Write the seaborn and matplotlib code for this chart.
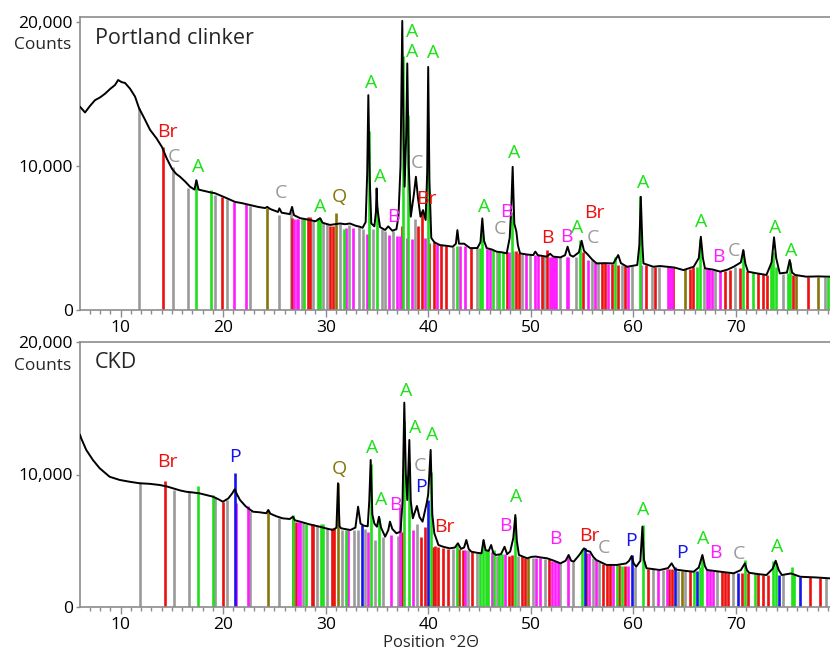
import numpy as np
import pandas as pd
import matplotlib
matplotlib.use("Agg")
import matplotlib.pyplot as plt
import seaborn as sns
from matplotlib.ticker import FuncFormatter, MultipleLocator, FixedLocator

# ---------------- measured pattern: Portland clinker ----------------
top_x = [6.03, 6.52, 7.0, 7.49, 8.0, 8.47, 9.0, 9.44, 9.75, 10.1, 10.42, 10.91, 11.4, 11.79, 12.3,
         12.86, 13.5, 14.03, 14.5, 15.0, 15.4, 15.79, 16.3, 16.76, 17.2, 17.38, 17.6, 18.2, 18.8,
         19.2, 20.2, 21.15, 21.9, 22.61, 23.4, 24.08, 24.3, 24.6, 25.35, 25.48, 25.7, 26.5, 26.72,
         26.9, 27.5, 28.0, 28.47, 29.0, 29.45, 29.7, 30.42, 30.9, 31.4, 31.9, 32.37, 32.9, 33.35,
         33.6, 33.9, 34.05, 34.16, 34.3, 34.45, 34.75, 34.9, 34.97, 35.05, 35.3, 35.8, 36.1, 36.5,
         36.9, 37.1, 37.3, 37.47, 37.6, 37.7, 37.85, 37.96, 38.1, 38.3, 38.6, 38.8, 39.0, 39.25,
         39.5, 39.75, 39.9, 40.0, 40.12, 40.3, 40.6, 41.15, 41.8, 42.4, 42.7, 42.85, 43.0, 43.5,
         44.1, 44.8, 45.1, 45.28, 45.45, 45.71, 46.2, 46.7, 47.2, 47.66, 47.95, 48.1, 48.24, 48.4,
         48.6, 48.75, 48.96, 49.6, 50.25, 50.45, 50.7, 51.56, 51.9, 52.2, 52.9, 53.35, 53.6, 53.85,
         54.15, 54.7, 54.97, 55.2, 55.46, 56.0, 56.44, 57.2, 58.06, 58.54, 58.8, 59.4, 60.4, 60.6,
         60.74, 60.9, 61.0, 61.97, 62.6, 63.27, 64.0, 64.9, 65.9, 66.4, 66.6, 66.8, 67.0, 67.8,
         68.5, 69.2, 69.8, 70.5, 70.74, 70.95, 71.2, 72.0, 73.0, 73.5, 73.74, 73.95, 74.3, 75.0,
         75.27, 75.5, 75.8, 76.9, 78.0, 79.2]
top_y = [14100, 13700, 14150, 14550, 14750, 15000, 15350, 15600, 15950, 15800, 15750, 15350, 14800,
         14000, 13300, 12500, 11900, 11300, 10500, 9800, 9450, 9240, 8900, 8550, 8350, 9000, 8350,
         8250, 8150, 8100, 7800, 7500, 7400, 7280, 7150, 7070, 7150, 7000, 6800, 7050, 6750, 6650,
         7150, 6580, 6370, 6300, 6240, 6150, 6370, 6050, 5900, 5950, 6000, 5950, 6000, 5850, 5770,
         5700, 6100, 9500, 14900, 9000, 6000, 5800, 6800, 8430, 7000, 5750, 5550, 5800, 5500, 5600,
         6500, 10000, 20050, 12000, 8550, 12000, 17100, 10000, 6470, 8000, 9240, 7800, 6470, 6930,
         6240, 9500, 16860, 9000, 5000, 4700, 4500, 4450, 4390, 4600, 5540, 4600, 4600, 4290, 4300,
         4700, 6350, 4800, 4290, 4200, 4040, 4000, 3930, 5000, 7000, 9930, 6000, 5450, 4500, 3930,
         3850, 3810, 4050, 3800, 3700, 3900, 3700, 3650, 3800, 4390, 3800, 3700, 4000, 4800, 4100,
         3930, 3500, 3230, 3250, 3230, 3810, 3250, 3000, 3120, 4500, 7850, 4500, 3230, 3000, 3050,
         3000, 2950, 2770, 3000, 3600, 5080, 3600, 2890, 2800, 2660, 2800, 3000, 3300, 4160, 3200,
         2660, 2550, 2430, 3300, 5040, 3600, 2540, 2600, 3470, 2600, 2430, 2310, 2330, 2310]

# ---------------- measured pattern: CKD ----------------
ckd_x = [6.03, 6.15, 6.64, 7.29, 7.95, 8.92, 9.9, 10.9, 11.85, 12.8, 13.8, 14.5, 15.1, 15.8, 16.4,
         17.0, 17.7, 18.4, 19.0, 19.5, 19.97, 20.5, 20.9, 21.12, 21.35, 21.64, 22.2, 22.9, 23.6,
         24.2, 24.4, 24.6, 25.2, 25.8, 26.5, 26.8, 27.0, 27.5, 28.4, 29.4, 30.0, 30.7, 31.05, 31.2,
         31.35, 31.5, 32.4, 32.9, 33.16, 33.4, 33.7, 34.1, 34.25, 34.39, 34.55, 34.75, 35.0, 35.2,
         35.4, 35.8, 36.1, 36.27, 36.5, 36.9, 37.3, 37.5, 37.67, 37.82, 37.96, 38.16, 38.3, 38.5,
         38.9, 39.15, 39.45, 39.85, 40.0, 40.24, 40.4, 40.6, 41.0, 41.5, 42.1, 42.6, 42.9, 43.2,
         43.5, 43.72, 43.95, 44.2, 44.8, 45.2, 45.4, 45.6, 45.9, 46.14, 46.35, 46.6, 47.1, 47.45,
         47.7, 48.0, 48.3, 48.5, 48.65, 48.85, 49.66, 50.1, 50.5, 51.0, 51.6, 52.3, 52.9, 53.4,
         53.7, 53.95, 54.2, 54.7, 55.2, 55.5, 55.8, 56.1, 56.4, 57.4, 58.4, 59.3, 59.6, 59.85,
         60.05, 60.3, 60.7, 60.9, 61.05, 61.3, 62.6, 63.4, 63.75, 64.1, 65.0, 65.9, 66.4, 66.75,
         67.0, 67.2, 68.5, 69.8, 70.5, 70.9, 71.1, 71.3, 72.2, 73.0, 73.6, 73.9, 74.2, 74.5, 75.4,
         76.3, 77.8, 79.2]
ckd_y = [13000, 12720, 11850, 11090, 10470, 9830, 9590, 9450, 9340, 9300, 9210, 9100, 8960, 8800,
         8700, 8650, 8580, 8450, 8330, 8150, 7950, 8200, 8600, 8890, 8500, 8080, 7600, 7200, 7150,
         7080, 7330, 7050, 6850, 6700, 6650, 6820, 6550, 6450, 6250, 6070, 5950, 5820, 6000, 9340,
         6100, 5950, 5820, 6000, 7580, 6300, 6150, 6100, 8000, 11090, 7000, 6300, 6070, 6820, 6000,
         5320, 5800, 6450, 5900, 5570, 5700, 8000, 15410, 10000, 8080, 12600, 8000, 6700, 7630,
         6800, 6450, 7830, 8500, 11850, 7000, 5570, 4690, 4550, 4440, 4500, 4820, 4400, 4500, 5070,
         4400, 4190, 4100, 4070, 5070, 4300, 4250, 4690, 4100, 3940, 4000, 4560, 4000, 4200, 5200,
         6950, 5000, 3940, 3690, 3800, 3820, 3750, 3690, 3500, 3310, 3500, 3940, 3500, 3440, 3900,
         4440, 4250, 4190, 3800, 3560, 3190, 3190, 3300, 3500, 3860, 3300, 3060, 3500, 6070, 3600,
         2940, 2810, 2950, 3310, 2850, 2750, 2680, 3000, 3940, 3100, 2810, 2680, 2560, 2800, 3310,
         2800, 2600, 2500, 2430, 2900, 3510, 2800, 2430, 2550, 2300, 2250, 2180]

# ---------------- reference sticks: Portland clinker ----------------
top_C_x = [11.82, 15.13, 16.6, 19.2, 20.34, 22.6, 25.44, 26.6, 27.66, 28.8, 29.77, 30.1, 31.4, 32.3,
           33.28, 33.67, 34.65, 35.46, 35.78, 36.6, 38.7, 42.39, 44.73, 46.68, 48.3, 49.12, 49.93,
           51.33, 52.86, 54.42, 55.95, 56.6, 58.88, 59.85, 61.8, 62.5, 66.9, 67.98, 69.93, 74.64, 78.7]
top_C_h = [14000, 9900, 8450, 7950, 7700, 7200, 6600, 6900, 6300, 6200, 6050, 5950, 5950, 5900,
           5750, 5650, 5650, 5600, 5500, 5450, 6300, 4400, 4300, 4050, 4100, 3900, 3850,
           3750, 3650, 3650, 3500, 3300, 3100, 3050, 3000, 3000, 2900, 2750, 2950, 2500, 2300]
top_Br_x = [14.1, 19.85, 26.74, 28.3, 28.47, 30.42, 30.68, 37.41, 39.04, 39.43, 40.1, 40.6, 41.25,
            41.7, 44.15, 47.66, 48.56, 48.89, 51.07, 51.62, 55.13, 56.93, 57.25, 57.9, 58.54, 59.2,
            61.25, 62.1, 63.9, 65.54, 65.86, 68.95, 69.44, 70.41, 71.07, 72.2, 72.69, 73.02, 75.62, 77.08]
top_Br_h = [11300, 7850, 6350, 6450, 6450, 5800, 5850, 5800, 5800, 6900, 4650, 4700, 4550,
            4450, 4300, 4000, 4100, 3950, 3750, 4150, 4000, 3250, 3250, 3200, 3150, 3050,
            3100, 3000, 3000, 2850, 2950, 2700, 2800, 2900, 2700, 2600, 2500, 2450, 2450, 2300]
top_A_x = [17.35, 18.78, 27.9, 29.28, 29.45, 31.8, 34.22, 35.03, 37.5, 38.0, 40.0, 42.78, 45.05,
           45.28, 46.3, 46.94, 47.33, 48.15, 54.8, 58.22, 60.66, 66.2, 66.5, 70.74, 71.72, 73.44,
           73.67, 73.93, 75.13, 75.3, 79.03]
top_A_h = [9000, 8300, 6350, 6350, 6350, 5650, 12400, 7150, 17600, 13500, 12700, 4450, 4300,
           5800, 4150, 4050, 4000, 6800, 4850, 3700, 7900, 2950, 4950, 4150, 2650, 3200,
           4050, 3000, 2600, 3350, 2300]
top_B_x = [21.05, 22.2, 26.94, 27.17, 27.33, 32.0, 32.7, 34.0, 36.17, 36.98, 37.25, 37.9, 38.4,
           39.7, 40.83, 43.1, 43.59, 45.71, 46.03, 47.92, 49.54, 50.42, 50.74, 51.9, 52.1, 52.3,
           52.5, 53.5, 53.67, 55.62, 56.27, 57.57, 59.52, 60.8, 63.4, 63.6, 63.75, 67.17, 67.4,
           67.66, 68.47]
top_B_h = [7500, 7350, 6300, 6300, 6300, 5700, 5700, 5300, 5200, 5100, 5100, 5000, 4950,
           5000, 4600, 4450, 4450, 4250, 4200, 4000, 3900, 3800, 3800, 3650, 3650, 3650,
           3650, 3700, 3700, 3450, 3350, 3200, 3050, 3100, 3000, 3000, 3000, 2850, 2850,
           2800, 2700]
top_Q_x = [24.24, 31.0, 65.06, 75.88, 78.05]
top_Q_h = [7100, 6700, 2850, 2450, 2300]

# ---------------- reference sticks: CKD ----------------
ckd_C_x = [11.88, 15.23, 16.69, 19.2, 20.4, 22.6, 25.44, 27.82, 29.12, 30.1, 31.56, 32.79, 33.18,
           33.84, 34.81, 35.62, 37.02, 38.88, 42.45, 43.91, 44.73, 46.68, 48.79, 50.2, 51.4, 52.86,
           54.15, 56.05, 56.7, 60.17, 61.96, 62.94, 64.4, 65.06, 68.14, 69.76, 74.64, 78.8]
ckd_C_h = [9450, 8850, 8650, 8300, 8100, 7250, 6750, 6350, 6200, 5950, 5850, 5800, 5800,
           5900, 5100, 5300, 5400, 6300, 4400, 4300, 4100, 3900, 3900, 3750, 3650, 3300,
           3400, 3700, 3400, 3000, 2850, 2800, 2750, 2700, 2700, 2550, 2400, 2200]
ckd_Br_x = [14.35, 20.0, 26.84, 27.07, 28.63, 28.73, 30.6, 30.8, 37.41, 39.27, 39.69, 40.44, 40.66,
            40.98, 41.47, 41.96, 43.03, 43.36, 44.24, 47.92, 48.15, 49.12, 49.45, 51.81, 55.4,
            57.02, 57.41, 57.74, 58.64, 59.2, 61.47, 63.52, 63.76, 65.54, 68.63, 68.95, 69.27,
            70.59, 71.23, 72.2, 72.69, 73.18, 77.25, 78.22]
ckd_Br_h = [9500, 7950, 6700, 6450, 6300, 6300, 5950, 5950, 5700, 5300, 6050, 4550, 4600,
            4550, 4500, 4400, 4400, 4350, 4200, 3900, 3950, 3850, 3750, 3600, 4100,
            3250, 3200, 3200, 3150, 3100, 2900, 2850, 2900, 2700, 2650, 2650, 2600,
            2600, 2600, 2500, 2450, 2450, 2250, 2200]
ckd_A_x = [17.57, 18.97, 26.84, 28.05, 29.5, 29.77, 31.98, 34.42, 35.23, 37.67, 38.13, 40.27, 42.84,
           45.05, 45.37, 45.64, 45.87, 46.42, 46.94, 47.17, 48.47, 54.98, 58.39, 58.88, 60.93,
           65.96, 66.52, 66.68, 70.91, 71.88, 73.67, 73.93, 75.46, 75.69]
ckd_A_h = [9100, 8450, 6950, 6300, 6300, 6300, 5800, 10800, 6700, 14000, 10950, 10200, 4700,
           4100, 5050, 4300, 4300, 4300, 4000, 4000, 6800, 4400, 3150, 3100, 6200,
           2750, 3000, 3900, 3550, 2600, 3450, 3300, 3050, 2400]
ckd_B_x = [21.25, 22.39, 27.33, 27.5, 32.2, 34.16, 36.37, 37.25, 38.49, 43.59, 46.2, 47.49, 50.52,
           50.9, 52.05, 52.37, 52.7, 53.67, 55.72, 56.37, 58.06, 59.52, 62.45, 63.27, 67.17, 67.49,
           67.75]
ckd_B_h = [7850, 7600, 6450, 6400, 5800, 5700, 5450, 7500, 5800, 4350, 4200, 4000, 3750,
           3700, 3500, 3450, 3400, 3900, 4100, 3550, 3150, 3100, 2800, 2850, 2800, 2800,
           2750]
ckd_P_x = [21.15, 33.51, 39.95, 55.3, 59.85, 64.08, 66.2, 70.25, 74.25, 76.27]
ckd_P_h = [10150, 6200, 8100, 4450, 3950, 3050, 2700, 2600, 2450, 2300]
ckd_Q_x = [24.4, 31.17, 49.76, 64.73]
ckd_Q_h = [7350, 9350, 3700, 2750]

# ---------------- phase labels ----------------
top_lab_text = ["Br", "C", "A", "C", "A", "Q", "A", "A", "B", "A", "A", "A", "C", "Br", "A", "C",
                "B", "A", "B", "B", "A", "Br", "C", "A", "A", "B", "C", "A", "A"]
top_lab_phase = ["Br", "C", "A", "C", "A", "Q", "A", "A", "B", "A", "A", "A", "C", "Br", "A", "C",
                 "B", "A", "Br", "B", "A", "Br", "C", "A", "A", "B", "C", "A", "A"]
top_lab_x = [14.6, 15.2, 17.57, 25.6, 29.45, 31.33, 34.39, 35.3, 36.6, 38.4, 38.4, 40.5, 38.9, 39.85,
             45.44, 47.0, 47.66, 48.4, 51.6, 53.45, 54.55, 56.18, 56.05, 61.0, 66.68, 68.3, 69.86,
             73.83, 75.46]
top_lab_y = [12340, 10600, 9900, 8130, 7160, 7850, 15750, 9240, 6470, 19290, 17900, 17790, 10210,
             7670, 7110, 5590, 6810, 10860, 4960, 5080, 5660, 6700, 4960, 8820, 6120, 3700, 4110,
             5660, 4110]

ckd_lab_text = ["Br", "P", "Q", "A", "A", "B", "A", "A", "C", "P", "A", "Br", "B", "A", "B", "Br",
                "C", "P", "A", "P", "A", "B", "C", "A"]
ckd_lab_x = [14.55, 21.15, 31.33, 34.49, 35.37, 36.76, 37.83, 38.7, 39.2, 39.3, 40.4, 41.54, 47.5,
             48.63, 52.4, 55.7, 57.18, 59.76, 61.0, 64.73, 66.83, 67.97, 70.3, 74.0]
ckd_lab_y = [10960, 11340, 10390, 11970, 8080, 7700, 16310, 13480, 10640, 9080, 12970, 6070, 6120,
             8330, 5120, 5370, 4440, 5020, 7330, 4070, 5120, 4110, 4010, 4560]

x_ticks = [10, 20, 30, 40, 50, 60, 70]
y_ticks = [0, 10000, 20000]

COL = {'A': '#1fe01a', 'B': '#ff1cff', 'Br': '#ec1010', 'C': '#9a9a9a', 'Q': '#86760a', 'P': '#1414ee'}
SPINE = '#8c8c8c'

sns.set_style("white")
plt.rcParams['font.family'] = ['Open Sans', 'DejaVu Sans']

fig = plt.figure(figsize=(8.3, 6.53), dpi=100)
W = 830.0
H = 653.0
ax1 = fig.add_axes([80 / W, 1 - 310 / H, 750 / W, (310 - 17.3) / H])
ax2 = fig.add_axes([80 / W, 1 - 607.3 / H, 750 / W, (607.3 - 341.7) / H])

XMIN, XMAX = 6.03, 6.03 + 750 / 10.25


def draw_panel(ax, cx, cy, sticks, labels, ymax):
    for phase, xs, hs in sticks:
        ax.vlines(xs, 0, hs, colors=COL[phase], lw=1.9, zorder=2)
    df = pd.DataFrame({"x": cx, "y": cy})
    sns.lineplot(data=df, x="x", y="y", ax=ax, color="black", lw=1.4, zorder=3,
                 estimator=None, sort=False)
    for t, ph, lx, ly in labels:
        ax.text(lx, ly, t, color=COL[ph], fontsize=14, ha="center", va="center", zorder=4)
    ax.set_xlim(XMIN, XMAX)
    ax.set_ylim(0, ymax)
    ax.set_xlabel("")
    ax.set_ylabel("")
    ax.xaxis.set_major_locator(FixedLocator(x_ticks))
    ax.xaxis.set_minor_locator(MultipleLocator(1))
    ax.yaxis.set_major_locator(FixedLocator(y_ticks))
    ax.yaxis.set_major_formatter(FuncFormatter(lambda v, p: f"{int(v):,}"))
    ax.tick_params(axis="both", which="major", direction="out", length=5, width=1,
                   color=SPINE, labelsize=12.5, labelcolor="black", pad=2)
    ax.tick_params(axis="x", which="minor", direction="out", length=3, width=1, color=SPINE)
    ax.tick_params(axis="x", which="both", bottom=True)
    ax.tick_params(axis="y", which="major", left=True, length=3)
    for s in ["left", "bottom", "top"]:
        ax.spines[s].set_color(SPINE)
        ax.spines[s].set_linewidth(1.2)
    ax.spines["right"].set_visible(False)
    ax.grid(False)


top_sticks = [("C", top_C_x, top_C_h), ("Q", top_Q_x, top_Q_h), ("Br", top_Br_x, top_Br_h),
              ("B", top_B_x, top_B_h), ("A", top_A_x, top_A_h)]
ckd_sticks = [("C", ckd_C_x, ckd_C_h), ("Q", ckd_Q_x, ckd_Q_h), ("Br", ckd_Br_x, ckd_Br_h),
              ("B", ckd_B_x, ckd_B_h), ("A", ckd_A_x, ckd_A_h), ("P", ckd_P_x, ckd_P_h)]

top_labels = list(zip(top_lab_text, top_lab_phase, top_lab_x, top_lab_y))
ckd_labels = list(zip(ckd_lab_text, ckd_lab_text, ckd_lab_x, ckd_lab_y))

draw_panel(ax1, top_x, top_y, top_sticks, top_labels, 20300)
draw_panel(ax2, ckd_x, ckd_y, ckd_sticks, ckd_labels, 20000)

fig.text(43 / W, 1 - 45 / H, "Counts", ha="center", va="center", fontsize=12.5)
fig.text(43 / W, 1 - 366 / H, "Counts", ha="center", va="center", fontsize=12.5)
fig.text(95 / W, 1 - 38 / H, "Portland clinker", ha="left", va="center", fontsize=15.5)
fig.text(95 / W, 1 - 363 / H, "CKD", ha="left", va="center", fontsize=15.5)
fig.text(431 / W, 1 - 643 / H, "Position °2Θ", ha="center", va="center", fontsize=12)

fig.savefig("out.png", dpi=100)
